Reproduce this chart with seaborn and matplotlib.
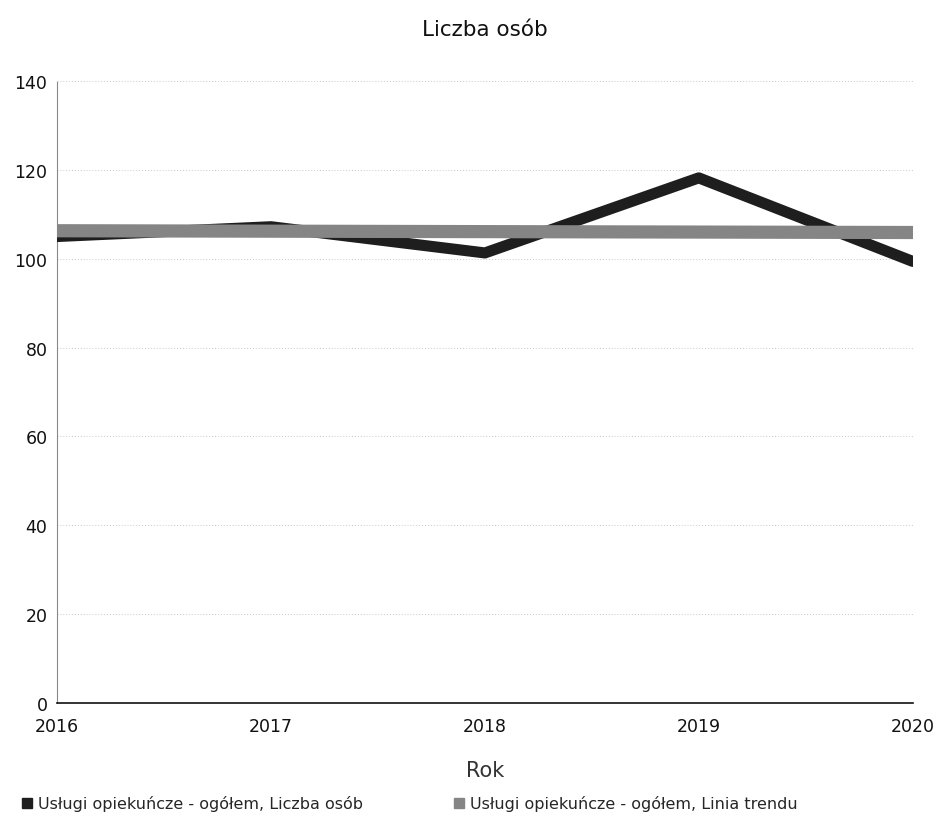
import pandas as pd
import matplotlib.pyplot as plt
import seaborn as sns
from matplotlib.lines import Line2D

# dane
lata = [2016, 2017, 2018, 2019, 2020]
liczba_osob = [105.0, 107.2, 101.3, 118.2, 99.4]
linia_trendu = [106.3, 106.2, 106.1, 106.0, 105.9]
seria_dane = "Usługi opiekuńcze - ogółem, Liczba osób"
seria_trend = "Usługi opiekuńcze - ogółem, Linia trendu"

df = pd.DataFrame(
    {
        "Rok": lata * 2,
        "Wartość": liczba_osob + linia_trendu,
        "Seria": [seria_dane] * len(lata) + [seria_trend] * len(lata),
    }
)

sns.set_style("white")
plt.rcParams["font.family"] = ["DejaVu Sans"]

fig = plt.figure(figsize=(9.37, 8.29), dpi=100)
ax = fig.add_axes([0.061, 0.151, 0.913, 0.75])

paleta = {seria_dane: "#1e1e1e", seria_trend: "#858585"}
sns.lineplot(
    data=df,
    x="Rok",
    y="Wartość",
    hue="Seria",
    palette=paleta,
    linewidth=8,
    ax=ax,
    legend=False,
    zorder=3,
)
ax.lines[1].set_linewidth(9.5)

ax.set_xlim(2016, 2020)
ax.set_ylim(0, 140)
ax.set_xticks(lata)
ax.set_yticks(range(0, 141, 20))
ax.tick_params(axis="both", labelsize=12.5, length=0, colors="#111111")
ax.tick_params(axis="x", pad=10)
ax.tick_params(axis="y", pad=7)
ax.yaxis.grid(True, color="#c8c8c8", linestyle=(0, (1, 2)), linewidth=0.7)
ax.set_axisbelow(True)

for s in ["top", "right"]:
    ax.spines[s].set_visible(False)
ax.spines["bottom"].set_color("#111111")
ax.spines["bottom"].set_linewidth(1.2)
ax.spines["left"].set_color("#888888")
ax.spines["left"].set_linestyle((0, (1, 1)))
ax.spines["left"].set_linewidth(0.8)

ax.set_title("Liczba osób", fontsize=15.5, pad=33, color="#111111")
ax.set_xlabel("Rok", fontsize=15, labelpad=18, color="#333333")
ax.set_ylabel("")

# legenda pod wykresem
uchwyty = [
    Line2D([], [], marker="s", linestyle="", color=paleta[seria_dane], markersize=7),
    Line2D([], [], marker="s", linestyle="", color=paleta[seria_trend], markersize=7),
]
fig.legend(
    uchwyty,
    [seria_dane, seria_trend],
    loc="lower left",
    bbox_to_anchor=(0.005, 0.003),
    ncol=2,
    frameon=False,
    fontsize=11.5,
    handletextpad=0.2,
    columnspacing=5.5,
    handlelength=1.0,
)

fig.savefig("out.png", dpi=100)
